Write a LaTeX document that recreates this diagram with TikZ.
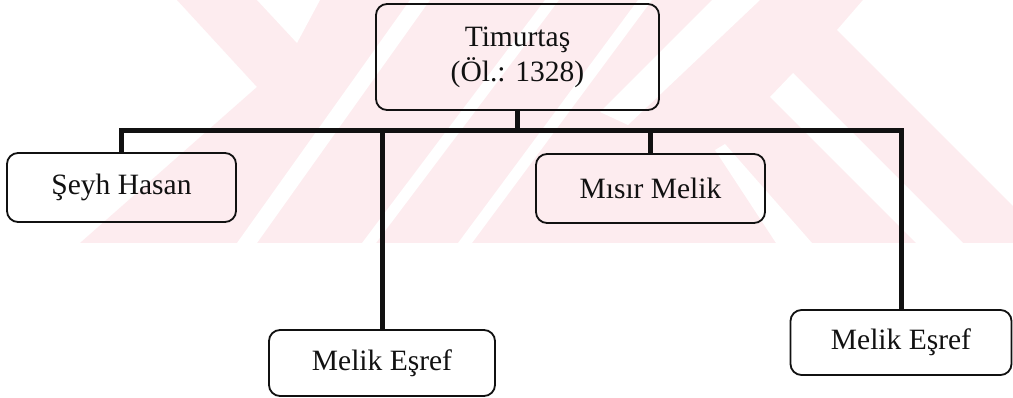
\documentclass[tikz,border=0pt]{standalone}
\usepackage{fontspec}
\setmainfont{Liberation Serif}
\begin{document}
\begin{tikzpicture}[x=1pt,y=-1pt,
  wm/.style={fill=wmpink,draw=none},
  wh/.style={fill=white,draw=none},
  person/.style={draw=ink,line width=1.8pt,rounded corners=11pt,inner sep=0pt,
    font=\fontsize{29.5}{35}\selectfont,align=center,text=ink},
  link/.style={draw=ink,line width=5pt}]
\definecolor{wmpink}{RGB}{253,236,239}
\definecolor{ink}{RGB}{17,17,17}
\useasboundingbox (0,0) rectangle (1013,398);
\fill[white] (0,0) rectangle (1013,398);
% watermark
\fill[wm] (80,243) -- (257,87) -- (177,0) -- (1013,0) -- (1013,243) -- cycle;
\fill[wh] (257,0) -- (320,0) -- (297,43) -- cycle;
\fill[wh] (237,243) -- (410,0) -- (430,0) -- (257,243) -- cycle;
\fill[wh] (362,243) -- (545,0) -- (559,0) -- (376,243) -- cycle;
\fill[wh] (458,243) -- (638,0) -- (652,0) -- (472,243) -- cycle;
\fill[wh] (712,0) -- (760,0) -- (628,125) -- (600,112) -- cycle;
\fill[wh] (837,30) -- (863,0) -- (1013,0) -- (1013,206) -- cycle;
\fill[wh] (770,97) -- (793,73) -- (963,243) -- (916,243) -- cycle;
\fill[wh] (715,150) -- (725,144) -- (812,243) -- (776,243) -- cycle;
% boxes
\node[person,minimum width=283pt,minimum height=106pt] (t) at (517.5,57) {Timurtaş\\(Öl.: 1328)};
\node[person,minimum width=229pt,minimum height=69pt] (sh) at (121.5,187.5) {Şeyh Hasan};
\node[person,minimum width=229pt,minimum height=69pt] (mm) at (650.5,188.5) {Mısır Melik};
\node[person,minimum width=226pt,minimum height=66pt] (me1) at (382,363) {Melik Eşref};
\node[person,minimum width=221pt,minimum height=65pt] (me2) at (901,342.5) {Melik Eşref};
\coordinate (bus) at (0,131);
% connectors
\draw[link] (sh.north) -- (sh.north |- bus) -- (me2.north |- bus) -- (me2.north);
\draw[link] (t.south) -- (t.south |- bus);
\draw[link] (me1.north) -- (me1.north |- bus);
\draw[link] (mm.north) -- (mm.north |- bus);
\end{tikzpicture}
\end{document}
